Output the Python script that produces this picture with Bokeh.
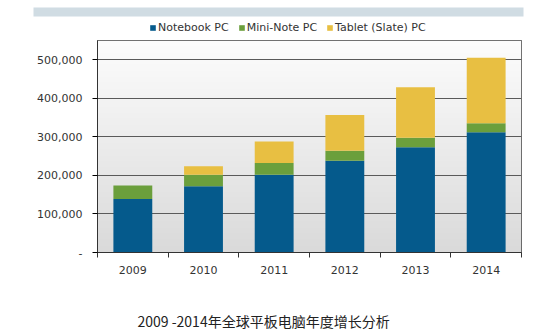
import numpy as np
from bokeh.plotting import figure
from bokeh.layouts import column
from bokeh.models import (ColumnDataSource, Legend, LegendItem, Label, BoxAnnotation,
                          FixedTicker, NumeralTickFormatter, Range1d)
from bokeh.core.properties import value
from bokeh.embed import file_html
from bokeh.resources import INLINE

# ---- data ----
years = ["2009", "2010", "2011", "2012", "2013", "2014"]
notebook = [139000, 172000, 202000, 238000, 273000, 312000]
mini_note = [35000, 30000, 30000, 26000, 25000, 23000]
tablet = [0, 22000, 56000, 93000, 131000, 170000]
series = ["Notebook PC", "Mini-Note PC", "Tablet (Slate) PC"]
y_ticks = [0, 100000, 200000, 300000, 400000, 500000]
title_text = "2009 -2014年全球平板电脑年度增长分析"

colors = ["#055a8c", "#6b9f3c", "#e8bf42"]
FONT = "DejaVu Sans"
W = 538
HEAD_H, MAIN_H, FOOT_H = 36, 260, 36


def blank(h):
    f = figure(width=W, height=h, x_range=Range1d(0, W), y_range=Range1d(h, 0),
               output_backend="svg", toolbar_location=None,
               x_axis_location=None, y_axis_location=None,
               min_border=0, min_border_left=0, min_border_right=0,
               min_border_top=0, min_border_bottom=0)
    f.grid.visible = False
    f.outline_line_color = None
    f.background_fill_color = "white"
    f.border_fill_color = "white"
    return f


# ---- header: banner + legend ----
head = blank(HEAD_H)
head.add_layout(BoxAnnotation(left=33, right=523, top=7, bottom=16,
                              left_units="canvas", right_units="canvas",
                              top_units="canvas", bottom_units="canvas",
                              fill_color="#d0dce3", fill_alpha=1, line_color=None))
dummies = [head.vbar(x=[-100], top=[0], width=1, fill_color=c, line_color=None) for c in colors]
legend = Legend(items=[LegendItem(label=value(s), renderers=[r]) for s, r in zip(series, dummies)],
                orientation="horizontal", location=(149, 2),
                glyph_width=7, glyph_height=7, label_standoff=2, spacing=9,
                padding=0, margin=0, label_height=11,
                label_text_font=FONT, label_text_font_size="11px",
                label_text_color="#333333", background_fill_alpha=0,
                border_line_color=None)
head.add_layout(legend)

# ---- main chart ----
x = (np.arange(len(years)) + 0.5).tolist()
src = ColumnDataSource(dict(x=x, nb=notebook, mn=mini_note, tb=tablet))

p = figure(width=W, height=MAIN_H, x_range=Range1d(0, len(years)),
           y_range=Range1d(0, 550000), output_backend="svg", toolbar_location=None,
           min_border_left=97, min_border_right=17, min_border_top=4,
           min_border_bottom=44)
p.background_fill_color = "white"
p.border_fill_color = "white"
p.outline_line_color = "#444444"

# vertical gradient background of the plotting area
n = 200
img = np.zeros((n, 1), dtype=np.uint32)
view = img.view(dtype=np.uint8).reshape((n, 1, 4))
top_c = np.array([253, 253, 253], dtype=float)
bot_c = np.array([218, 218, 218], dtype=float)
for i in range(n):
    t = i / (n - 1)
    view[i, 0, :3] = (bot_c + (top_c - bot_c) * t).astype(np.uint8)
    view[i, 0, 3] = 255
p.image_rgba(image=[img], x=0, y=0, dw=len(years), dh=550000, level="image")

rs = p.vbar_stack(["nb", "mn", "tb"], x="x", width=0.55, fill_color=colors,
                  line_color=None, source=src)

p.xgrid.visible = False
p.ygrid.grid_line_color = "#5a5a5a"
p.ygrid.grid_line_width = 1

p.yaxis.ticker = FixedTicker(ticks=y_ticks)
p.yaxis.formatter = NumeralTickFormatter(format="0,0")
p.yaxis.major_label_overrides = {0: "-"}
p.yaxis.minor_tick_line_color = None
p.yaxis.major_tick_out = 5
p.yaxis.major_tick_in = 0
p.yaxis.major_label_standoff = 10

p.xaxis.ticker = FixedTicker(ticks=x, minor_ticks=list(range(len(years) + 1)))
p.xaxis.major_label_overrides = {float(xi): yr for xi, yr in zip(x, years)}
p.xaxis.major_tick_line_color = None
p.xaxis.major_tick_out = 0
p.xaxis.major_tick_in = 0
p.xaxis.minor_tick_line_color = "#333333"
p.xaxis.minor_tick_out = 5
p.xaxis.minor_tick_in = 0
p.xaxis.major_label_standoff = 8

for ax in (p.xaxis, p.yaxis):
    ax.axis_line_color = "#333333"
    ax.major_label_text_font = FONT
    ax.major_label_text_font_size = "11px"
    ax.major_label_text_color = "#333333"

# ---- footer caption ----
foot = blank(FOOT_H)
foot.add_layout(Label(x=137, y=12, x_units="screen", y_units="screen", text=title_text,
                      text_font="Noto Sans CJK SC", text_font_size="14px",
                      text_color="#222222", text_baseline="middle", text_align="left"))

layout = column(column(head, spacing=0), p, column(foot, spacing=0), spacing=0)
open("out.html", "w").write(file_html(layout, INLINE))
